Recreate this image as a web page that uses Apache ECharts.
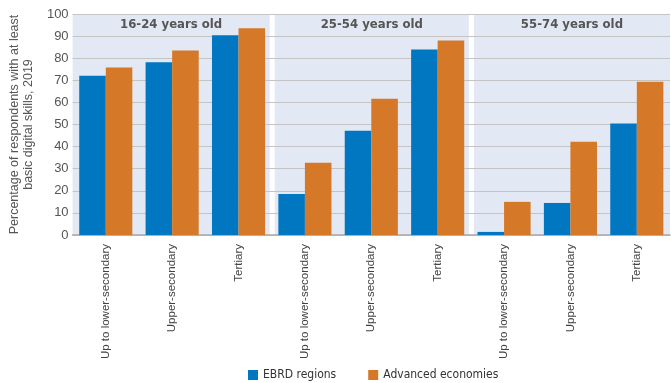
<!DOCTYPE html>
<html>
<head>
<meta charset="utf-8">
<script src="https://cdn.jsdelivr.net/npm/echarts@6/dist/echarts.min.js"></script>
<style>html,body{margin:0;padding:0;background:#fff;}#c{width:671px;height:383px;}</style>
</head>
<body>
<div id="c"></div>
<script>
const categories = ['Up to lower-secondary','Upper-secondary','Tertiary','Up to lower-secondary','Upper-secondary','Tertiary','Up to lower-secondary','Upper-secondary','Tertiary'];
const panelTitles = ['16-24 years old','25-54 years old','55-74 years old'];
const ebrd = [72.1, 78.2, 90.4, 18.6, 47.2, 83.9, 1.4, 14.5, 50.4];
const advanced = [75.8, 83.5, 93.5, 32.7, 61.7, 88.0, 15.0, 42.2, 69.4];
const yTicks = [0,10,20,30,40,50,60,70,80,90,100];

const panels = panelTitles.map((t, i) => [i * 3, i * 3 + 3, t]);
const NARROW = '"DejaVu Sans Condensed", "Liberation Sans Narrow", "Liberation Sans", sans-serif';
const REG = '"Liberation Sans", Arial, sans-serif';

const chart = echarts.init(document.getElementById('c'), null, {renderer: 'canvas'});
chart.setOption({
  animation: false,
  textStyle: {fontFamily: REG},
  grid: {left: 71, right: 1, top: 14, bottom: 148},
  legend: {
    bottom: 2, left: 248, padding: 0,
    itemWidth: 10, itemHeight: 10, itemGap: 32,
    icon: 'rect',
    textStyle: {fontSize: 12, color: '#333', fontFamily: NARROW},
    data: ['EBRD regions', 'Advanced economies']
  },
  xAxis: [{
    type: 'category', data: categories,
    axisTick: {show: false},
    axisLine: {lineStyle: {color: '#aaa', width: 1.5}},
    axisLabel: {rotate: 90, fontSize: 11.5, color: '#444', margin: 9, fontFamily: REG}
  }, {
    type: 'value', min: 0, max: 9, show: false
  }],
  yAxis: {
    type: 'value', min: 0, max: 100, interval: 10,
    axisLabel: {fontSize: 13, color: '#555', margin: 4, fontFamily: REG},
    axisLine: {show: false}, axisTick: {show: false},
    splitLine: {lineStyle: {color: '#c4c4c4', width: 1.2}},
    name: 'Percentage of respondents with at least\nbasic digital skills, 2019',
    nameLocation: 'middle', nameGap: 32,
    nameTextStyle: {fontSize: 12.5, color: '#555', lineHeight: 14, fontFamily: REG}
  },
  series: [{
    type: 'custom', xAxisIndex: 1, yAxisIndex: 0, z: -1, silent: true,
    data: panels,
    renderItem: function (params, api) {
      const s = api.value(0), e = api.value(1);
      const p0 = api.coord([s, 100]);
      const p1 = api.coord([e, 0]);
      const x0 = p0[0] + (s > 0 ? 3 : 0);
      const x1 = p1[0] - (e < 9 ? 2 : 0);
      return {
        type: 'group',
        children: [{
          type: 'rect',
          shape: {x: x0, y: p0[1], width: x1 - x0, height: p1[1] - p0[1]},
          style: {fill: '#e2e9f4'}
        }, {
          type: 'text',
          style: {
            text: panels[params.dataIndex][2],
            x: (x0 + x1) / 2, y: p0[1] + 11,
            textAlign: 'center', textVerticalAlign: 'middle',
            fontSize: 13, fontWeight: 'bold', fill: '#555',
            fontFamily: NARROW
          }
        }]
      };
    }
  }, {
    name: 'EBRD regions', type: 'bar', data: ebrd,
    itemStyle: {color: '#0077c0'}, barGap: '0%', barCategoryGap: '20%'
  }, {
    name: 'Advanced economies', type: 'bar', data: advanced,
    itemStyle: {color: '#d57828'}, barGap: '0%', barCategoryGap: '20%'
  }]
});
</script>
</body>
</html>
